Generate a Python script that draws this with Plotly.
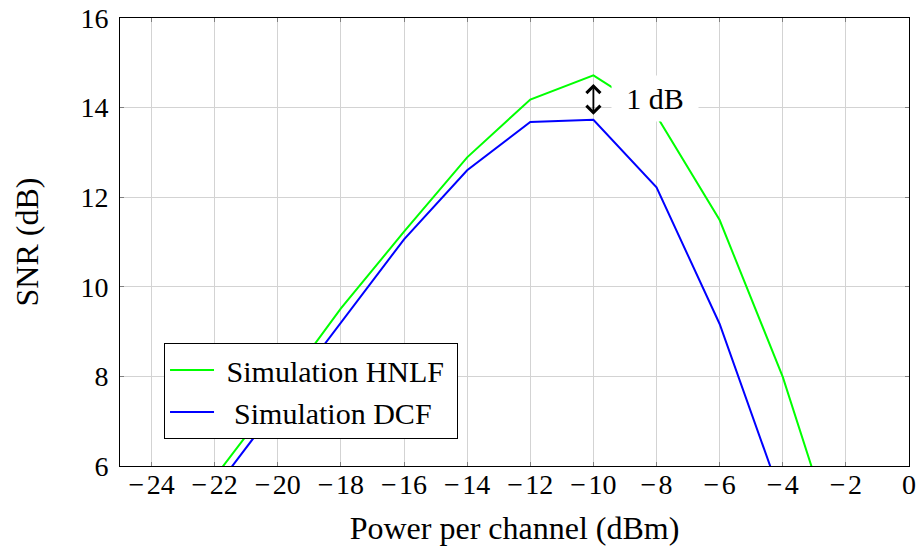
import plotly.graph_objects as go

# Data
power_hnlf = [-22, -20, -18, -16, -14, -12, -10, -8, -6, -4, -2]
snr_hnlf = [5.75, 7.60, 9.52, 11.23, 12.89, 14.18, 14.72, 13.82, 11.49, 7.99, 3.6]

power_dcf = [-22, -20, -18, -16, -14, -12, -10, -8, -6, -4]
snr_dcf = [5.48, 7.34, 9.20, 11.06, 12.60, 13.68, 13.73, 12.22, 9.17, 5.21]

x_ticks = [-24, -22, -20, -18, -16, -14, -12, -10, -8, -6, -4, -2, 0]
x_ticktext = [("\u2212\u200a" + str(abs(v))) if v < 0 else str(v) for v in x_ticks]
y_ticks = [6, 8, 10, 12, 14, 16]

arrow_x = -10
arrow_top = 14.56
arrow_bottom = 13.84
label_x = -8.04
label_y = 14.21
label_text = "1 dB"

FONT = "Liberation Serif"

fig = go.Figure()
fig.add_trace(go.Scatter(x=power_hnlf, y=snr_hnlf, mode="lines",
                         name="\u00a0Simulation HNLF\u00a0",
                         line=dict(color="#00ff00", width=2)))
fig.add_trace(go.Scatter(x=power_dcf, y=snr_dcf, mode="lines",
                         name="\u00a0\u00a0Simulation DCF",
                         line=dict(color="#0000ff", width=2)))

# double-headed arrow
fig.add_annotation(x=arrow_x, y=arrow_bottom, ax=arrow_x, ay=arrow_top,
                   xref="x", yref="y", axref="x", ayref="y",
                   text="", showarrow=True, arrowhead=4, startarrowhead=4,
                   arrowside="end+start", arrowsize=1.5, startarrowsize=1.5,
                   arrowwidth=1.8, arrowcolor="black", standoff=0, startstandoff=0)
# label with white box
fig.add_annotation(x=label_x, y=label_y, xref="x", yref="y", text=label_text,
                   showarrow=False, bgcolor="white", width=84, height=43,
                   font=dict(family=FONT, size=30, color="black"))

axis_common = dict(showline=True, linecolor="black", linewidth=1, mirror="ticks",
                   showgrid=True, gridcolor="#d3d3d3", gridwidth=1,
                   ticks="inside", ticklen=4, tickcolor="#808080", tickwidth=1,
                   zeroline=False, automargin=False,
                   tickfont=dict(family=FONT, size=28, color="black"))

fig.update_xaxes(range=[-25, 0], tickvals=x_ticks, ticktext=x_ticktext, **axis_common,
                 title=dict(text="Power per channel (dBm)",
                            font=dict(family=FONT, size=32, color="black"),
                            standoff=19),
                 ticklabelstandoff=-7)
fig.update_yaxes(range=[6, 16], tickvals=y_ticks, **axis_common,
                 title=dict(text="SNR (dB)",
                            font=dict(family=FONT, size=32, color="black"),
                            standoff=32),
                 ticklabelstandoff=5)

fig.update_layout(
    width=919, height=546,
    margin=dict(l=120, r=10, t=18, b=80),
    plot_bgcolor="white", paper_bgcolor="white",
    font=dict(family=FONT, color="black"),
    legend=dict(x=0.0558, y=0.060, xanchor="left", yanchor="bottom",
                bgcolor="white", bordercolor="black", borderwidth=1,
                font=dict(family=FONT, size=30, color="black"),
                itemwidth=44, tracegroupgap=0),
    showlegend=True,
)

fig.write_html("out.html")
